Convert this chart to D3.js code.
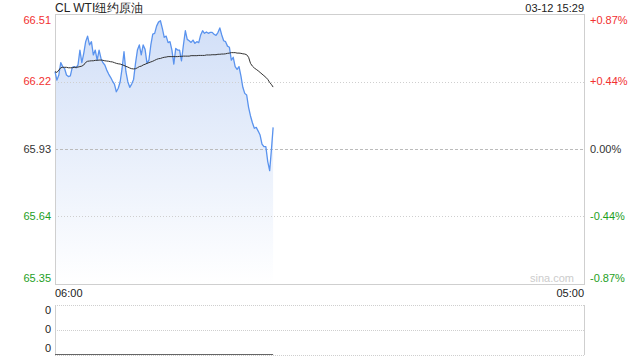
<!DOCTYPE html>
<html><head><meta charset="utf-8">
<script src="https://cdn.jsdelivr.net/npm/d3@7/dist/d3.min.js"></script>
<style>
html,body{margin:0;padding:0;background:#fff;}
svg{display:block;font-family:"Liberation Sans",Arial,sans-serif;}
</style></head>
<body>
<svg id="chart" width="640" height="360"></svg>
<script>
// ---- data ----
const title = "CL WTI纽约原油";
const stampText = "03-12 15:29";
const prevClose = 65.93;
const priceTicks = [66.51, 66.22, 65.93, 65.64, 65.35];
const pctTicks = ["+0.87%", "+0.44%", "0.00%", "-0.44%", "-0.87%"];
const timeLabels = ["06:00", "05:00"];
const sessionStart = "06:00";
const sessionEnd = "05:00";
const stepMinutes = 5;
const lastTime = "15:29";
const volumeTicks = ["0", "0", "0"];
const price = [
 66.262, 66.226, 66.248, 66.301, 66.284, 66.276, 66.248, 66.241, 66.244, 66.281,
 66.284, 66.279, 66.291, 66.355, 66.301, 66.341, 66.391, 66.415, 66.377, 66.391,
 66.334, 66.355, 66.312, 66.355, 66.319, 66.301, 66.291, 66.269, 66.252, 66.238,
 66.222, 66.209, 66.176, 66.191, 66.219, 66.276, 66.348, 66.262, 66.219, 66.195,
 66.209, 66.229, 66.298, 66.355, 66.377, 66.334, 66.377, 66.358, 66.298, 66.312,
 66.377, 66.424, 66.427, 66.458, 66.475, 66.481, 66.448, 66.410, 66.415, 66.387,
 66.391, 66.355, 66.295, 66.362, 66.355, 66.355, 66.309, 66.377, 66.438, 66.401,
 66.395, 66.388, 66.398, 66.384, 66.391, 66.387, 66.420, 66.438, 66.427, 66.433,
 66.427, 66.431, 66.431, 66.423, 66.418, 66.430, 66.450, 66.420, 66.395, 66.391,
 66.372, 66.367, 66.312, 66.324, 66.284, 66.272, 66.284, 66.244, 66.195, 66.169,
 66.162, 66.109, 66.072, 66.043, 66.019, 66.023, 66.007, 65.990, 65.951, 65.940,
 65.940, 65.876, 65.837, 65.936, 66.023
];
const avgPrice = [
 66.262, 66.259, 66.269, 66.279, 66.281, 66.281, 66.281, 66.279, 66.279, 66.279,
 66.281, 66.281, 66.282, 66.284, 66.286, 66.291, 66.302, 66.307, 66.308, 66.309,
 66.309, 66.311, 66.311, 66.312, 66.312, 66.311, 66.309, 66.308, 66.307, 66.305,
 66.304, 66.301, 66.298, 66.296, 66.295, 66.292, 66.289, 66.285, 66.282, 66.278,
 66.275, 66.274, 66.275, 66.279, 66.284, 66.286, 66.291, 66.294, 66.298, 66.301,
 66.304, 66.307, 66.311, 66.315, 66.318, 66.319, 66.322, 66.324, 66.325, 66.327,
 66.327, 66.327, 66.327, 66.327, 66.327, 66.328, 66.328, 66.329, 66.329, 66.329,
 66.329, 66.331, 66.331, 66.331, 66.331, 66.332, 66.332, 66.332, 66.332, 66.334,
 66.334, 66.334, 66.335, 66.335, 66.335, 66.337, 66.337, 66.338, 66.338, 66.339,
 66.341, 66.342, 66.344, 66.344, 66.344, 66.342, 66.342, 66.341, 66.339, 66.338,
 66.335, 66.324, 66.298, 66.286, 66.278, 66.272, 66.266, 66.259, 66.252, 66.245,
 66.238, 66.229, 66.216, 66.206, 66.196
];

// ---- helpers ----
function toMin(s){ const [h,m]=s.split(":").map(Number); let v=h*60+m-360; if(v<0) v+=1440; return v; }
const sessionLen = toMin(sessionEnd) === 0 ? 1440 : toMin(sessionEnd);
const minutes = price.map((_, i) => i === price.length - 1 ? toMin(lastTime) : i * stepMinutes);

// ---- layout ----
const L = 55, R = 584, T = 14, B = 284, VT = 305, VB = 355;
const svg = d3.select("#chart");
const x = d3.scaleLinear().domain([0, sessionLen]).range([L, R]);
const y = d3.scaleLinear().domain([priceTicks[4], priceTicks[0]]).range([B, T]);
const yv = d3.scaleLinear().domain([0, 1]).range([VB, VT]);

// gradient
const defs = svg.append("defs");
const grad = defs.append("linearGradient").attr("id","fillGrad")
  .attr("gradientUnits","userSpaceOnUse").attr("x1",0).attr("x2",0).attr("y1",T).attr("y2",B);
grad.append("stop").attr("offset","0%").attr("stop-color","#d0def7");
grad.append("stop").attr("offset","100%").attr("stop-color","#ffffff");

const gray = "#cfcfcf";
// area
const pts = price.map((v,i)=>({t:minutes[i], v, a:avgPrice[i]}));
svg.append("path").datum(pts)
  .attr("d", d3.area().x(d=>x(d.t)).y0(B).y1(d=>y(d.v)))
  .attr("fill","url(#fillGrad)");

// gridlines
priceTicks.forEach((p,i)=>{
  if(i===0||i===4) return;
  svg.append("line").attr("x1",L).attr("x2",R).attr("y1",Math.round(y(p))+0.5).attr("y2",Math.round(y(p))+0.5)
    .attr("stroke", p===prevClose ? "#bbbbbb" : gray)
    .attr("stroke-dasharray", p===prevClose ? "3,2" : "1,2");
});

// frame main
svg.append("rect").attr("x",L+0.5).attr("y",T+0.5).attr("width",R-L).attr("height",B-T)
  .attr("fill","none").attr("stroke",gray);

// lines
svg.append("path").datum(pts)
  .attr("d", d3.line().x(d=>x(d.t)).y(d=>y(d.v)))
  .attr("fill","none").attr("stroke","#5a93ee").attr("stroke-width",1.3).attr("stroke-linejoin","round");
svg.append("path").datum(pts)
  .attr("d", d3.line().x(d=>x(d.t)).y(d=>y(d.a)))
  .attr("fill","none").attr("stroke","#333").attr("stroke-width",1);

// left price labels
const fs = 11;
priceTicks.forEach((p,i)=>{
  let yy = y(p);
  if(i===0) yy += 6; if(i===4) yy -= 6;
  const col = p>prevClose ? "#f23030" : (p<prevClose ? "#1ea01e" : "#333");
  svg.append("text").attr("x",L-4).attr("y",yy).attr("dy","0.35em").attr("text-anchor","end")
    .attr("font-size",fs).attr("fill",col).text(p.toFixed(2));
  svg.append("text").attr("x",R+6).attr("y",yy).attr("dy","0.35em").attr("text-anchor","start")
    .attr("font-size",fs).attr("fill",col).text(pctTicks[i]);
});

// title and stamp
svg.append("text").attr("x",L).attr("y",8).attr("dy","0.35em").attr("font-size",12).attr("fill","#222").text(title);
svg.append("text").attr("x",R).attr("y",8).attr("dy","0.35em").attr("text-anchor","end").attr("font-size",11).attr("fill","#222").text(stampText);

// watermark
svg.append("text").attr("x",R-10).attr("y",278).attr("dy","0.35em").attr("text-anchor","end")
  .attr("font-size",11).attr("fill","#cccccc").text("sina.com");

// time labels
svg.append("text").attr("x",x(toMin(timeLabels[0]))).attr("y",293).attr("dy","0.35em").attr("font-size",fs).attr("fill","#222").text(timeLabels[0]);
svg.append("text").attr("x",R).attr("y",293).attr("dy","0.35em").attr("text-anchor","end").attr("font-size",fs).attr("fill","#222").text(timeLabels[1]);

// volume panel
[VT, (VT+VB)/2, VB].forEach(v=>{
  svg.append("line").attr("x1",L).attr("x2",R).attr("y1",Math.round(v)+0.5).attr("y2",Math.round(v)+0.5)
    .attr("stroke",gray).attr("stroke-dasharray","1,1");
});
svg.append("line").attr("x1",L+0.5).attr("x2",L+0.5).attr("y1",VT).attr("y2",VB).attr("stroke",gray);
svg.append("line").attr("x1",R+0.5).attr("x2",R+0.5).attr("y1",VT).attr("y2",VB).attr("stroke",gray);
svg.append("line").attr("x1",x(minutes[0])).attr("x2",x(minutes[minutes.length-1]))
  .attr("y1",yv(0)-0.5).attr("y2",yv(0)-0.5).attr("stroke","#666").attr("stroke-width",1);
const vy = [310, 329, 348];
volumeTicks.forEach((t,i)=>{
  svg.append("text").attr("x",L-4).attr("y",vy[i]).attr("dy","0.35em").attr("text-anchor","end")
    .attr("font-size",fs).attr("fill","#222").text(t);
});
</script>
</body></html>
